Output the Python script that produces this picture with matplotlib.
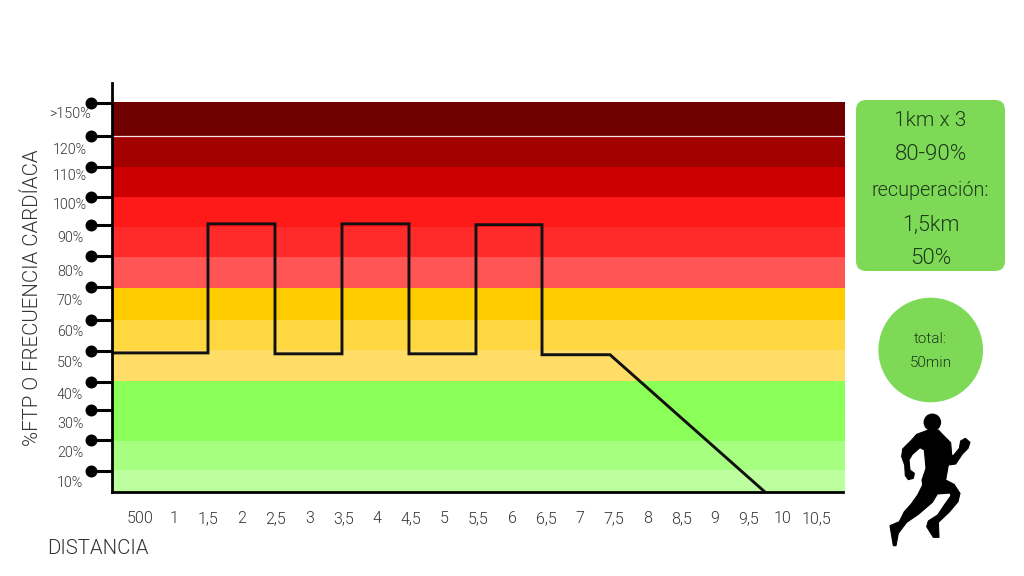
import matplotlib
matplotlib.use("Agg")
import matplotlib.pyplot as plt
from matplotlib.patches import FancyBboxPatch, Circle, Polygon
from matplotlib.transforms import blended_transform_factory

plt.rcParams['font.family'] = ['Roboto', 'DejaVu Sans']
TEXT_WEIGHT = 300

band_edges = [2.7, 10, 19.5, 29.4, 39.3, 49.6, 59.5, 70, 80.3, 90.2, 100, 109.9, 120.2, 131.4]
band_colors = ['#BDFF9F', '#A6FF80', '#8CFF5A', '#8AFF57', '#FFDD66', '#FFD740', '#FFCC00',
               '#FF5555', '#FF2B2B', '#FF1A1A', '#CC0000', '#A30000', '#700000']
stem_levels = [9.7, 19.9, 29.8, 39, 49.3, 59.5, 70.4, 80.6, 90.9, 100, 110, 120.2, 131]
y_labels = ['10%', '20%', '30%', '40%', '50%', '60%', '70%', '80%', '90%', '100%', '110%', '120%', '>150%']
y_label_levels = [5.7, 15.6, 25.2, 34.6, 45.2, 55.4, 65.6, 75.4, 86.6, 97.3, 106.9, 115.6, 127.6]
x_ticks = [0.5, 1, 1.5, 2, 2.5, 3, 3.5, 4, 4.5, 5, 5.5, 6, 6.5, 7, 7.5, 8, 8.5, 9, 9.5, 10, 10.5]
x_labels = ['500', '1', '1,5', '2', '2,5', '3', '3,5', '4', '4,5', '5', '5,5', '6', '6,5', '7', '7,5',
            '8', '8,5', '9', '9,5', '10', '10,5']
line_km = [0.08, 1.5, 1.5, 2.491, 2.491, 3.482, 3.482, 4.473, 4.473, 5.464, 5.464, 6.441, 6.441, 7.447, 9.739]
line_pct = [48.6, 48.6, 91.2, 91.2, 48.3, 48.3, 91.2, 91.2, 48.3, 48.3, 90.9, 90.9, 48, 48, 2.7]
note_lines = ['1km x 3', '80-90%', 'recuperación:', '1,5km', '50%']
total_lines = ['total:', '50min']
runner_outline = [(175, 75), (140, 88), (125, 105), (98, 132), (95, 155), (104, 180), (106, 212), (115, 224),
                  (130, 220), (133, 205), (120, 195), (117, 165), (127, 148), (150, 128), (163, 135), (168, 190),
                  (156, 225), (158, 240), (143, 270), (123, 298), (103, 320), (88, 350), (60, 362), (70, 422),
                  (78, 422), (85, 385), (110, 352), (145, 328), (187, 292), (202, 267), (240, 264), (243, 272),
                  (223, 300), (203, 330), (175, 348), (170, 365), (190, 397), (207, 397), (205, 352), (237, 322),
                  (264, 290), (270, 265), (252, 238), (227, 225), (235, 180), (257, 177), (277, 147), (294, 130),
                  (300, 112), (286, 100), (272, 108), (268, 130), (250, 152), (245, 150), (242, 113), (217, 88),
                  (205, 75)]

W, H = 1024, 576
fig = plt.figure(figsize=(W / 100, H / 100), dpi=100, facecolor='white')

ov = fig.add_axes([0, 0, 1, 1])
ov.set_xlim(0, W)
ov.set_ylim(H, 0)
ov.axis('off')

ax = fig.add_axes([112 / W, 1 - 492 / H, 733 / W, 390 / H])
ax.set_xlim(0.08, 10.923)
ax.set_ylim(2.7, 131.4)
ax.patch.set_visible(False)

for i, c in enumerate(band_colors):
    ax.axhspan(band_edges[i], band_edges[i + 1], color=c, lw=0, zorder=1)
ax.axhline(120.2, color='#F4E6E6', lw=0.9, zorder=2)

ax.plot(line_km, line_pct, color='#111111', lw=2.1, solid_joinstyle='miter', zorder=4)

for s in ['top', 'right', 'left']:
    ax.spines[s].set_visible(False)
ax.spines['bottom'].set_linewidth(2)
ax.spines['bottom'].set_color('black')
ax.spines['bottom'].set_bounds(0.08, 10.9)
ax.axvline(0.08, ymin=0, ymax=1.05, color='black', lw=2, clip_on=False, zorder=5)

ax.set_xticks(x_ticks)
ax.set_xticklabels(x_labels, fontsize=11.5, color='#333333', fontweight=TEXT_WEIGHT)
ax.tick_params(axis='x', length=0, pad=14)

ax.set_yticks(stem_levels)
ax.set_yticklabels([])
ax.tick_params(axis='y', length=16, width=2.2, color='black', pad=0)

tr = blended_transform_factory(ax.transAxes, ax.transData)
ax.plot([-21 / 733] * len(stem_levels), stem_levels, 'o', ms=7.6, color='black',
        transform=tr, clip_on=False, zorder=6)
for lab, lev in zip(y_labels, y_label_levels):
    ax.text(-42 / 733, lev, lab, transform=tr, ha='center', va='center', fontsize=10.3,
            color='#333333', fontweight=TEXT_WEIGHT)

ov.text(33, 298, '%FTP O FRECUENCIA CARDÍACA', rotation=90, ha='center', va='center',
        fontsize=14.7, color='#333333', fontweight=TEXT_WEIGHT)
ov.text(98, 548, 'DISTANCIA', ha='center', va='center', fontsize=14.7, color='#333333', fontweight=TEXT_WEIGHT)

ov.add_patch(FancyBboxPatch((856, 100), 149, 171, boxstyle='round,pad=0,rounding_size=10',
                            fc='#7ED957', ec='none'))
for lab, yp, fs in zip(note_lines, [121, 155, 191, 225, 258], [15, 16, 14.3, 15.5, 16]):
    ov.text(930.5, yp, lab, ha='center', va='center', fontsize=fs, color='#1d3a1a', fontweight=TEXT_WEIGHT)

ov.add_patch(Circle((930.7, 350), 52.3, fc='#7ED957', ec='none'))
for lab, yp in zip(total_lines, [339, 363]):
    ov.text(930.7, yp, lab, ha='center', va='center', fontsize=11, color='#1d3a1a', fontweight=TEXT_WEIGHT)

ov.add_patch(Polygon([(870 + x / 3, 405 + y / 3) for x, y in runner_outline], closed=True, fc='black', ec='black', lw=0.8))
ov.add_patch(Circle((870 + 187 / 3, 405 + 52 / 3), 8.8, fc='black', ec='none'))

fig.savefig('out.png', dpi=100)
